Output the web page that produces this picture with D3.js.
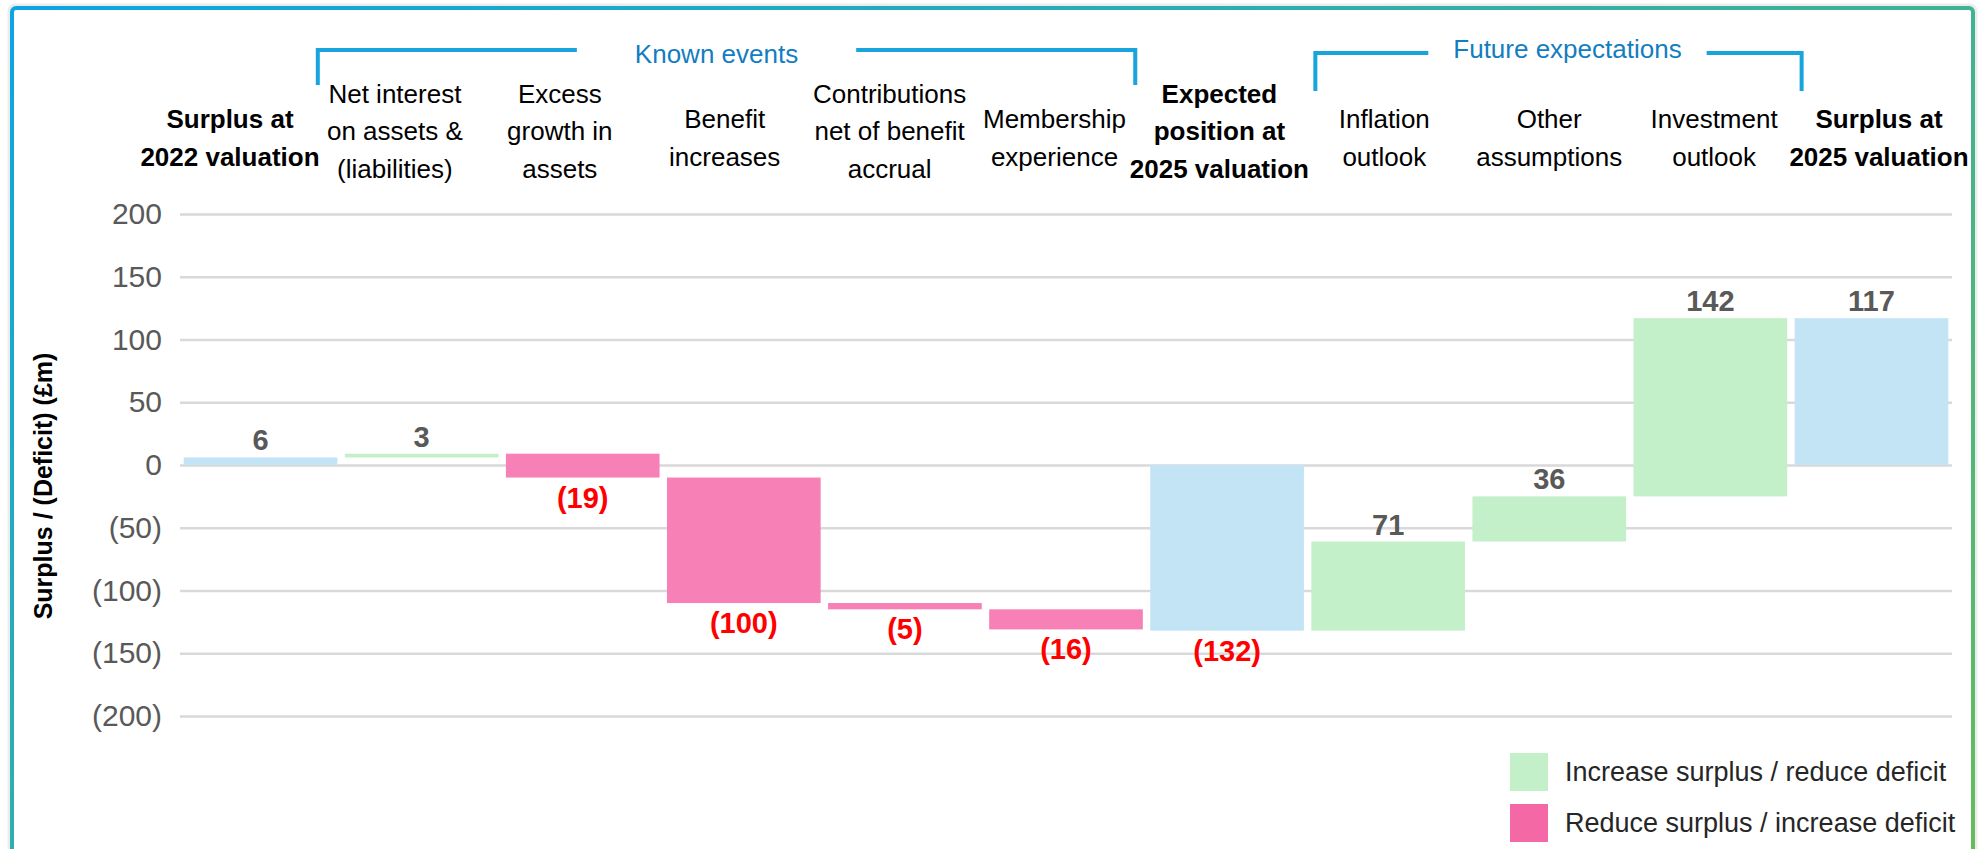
<!DOCTYPE html>
<html>
<head>
<meta charset="utf-8">
<script src="https://cdn.jsdelivr.net/npm/d3@7"></script>
<style>
html,body{margin:0;padding:0;background:#fff;overflow:hidden}
svg{display:block;font-family:"Liberation Sans",Arial,sans-serif}
</style>
</head>
<body>
<svg id="chart" width="1982" height="849"></svg>
<script>
//----------------------------------------------------------- DATA
var categories = [
	"Surplus at\n2022 valuation",
	"Net interest\non assets &\n(liabilities)",
	"Excess\ngrowth in\nassets",
	"Benefit\nincreases",
	"Contributions\nnet of benefit\naccrual",
	"Membership\nexperience",
	"Expected\nposition at\n2025 valuation",
	"Inflation\noutlook",
	"Other\nassumptions",
	"Investment\noutlook",
	"Surplus at\n2025 valuation"
];
var values = [6, 3, -19, -100, -5, -16, -132, 71, 36, 142, 117];
var barTypes = ["total","delta","delta","delta","delta","delta","total","delta","delta","delta","total"];
var yTicks = [200, 150, 100, 50, 0, -50, -100, -150, -200];
var groupNames = ["Known events", "Future expectations"];
var legendLabels = ["Increase surplus / reduce deficit", "Reduce surplus / increase deficit"];

//----------------------------------------------------------- STYLE
var colTotal = "#c2e4f5",
	colUp = "#c3f0c9",
	colDown = "#f781b6",
	colDownLegend = "#f468a6",
	colBracket = "#18a4dc",
	colGroupText = "#137dc1";

var svg = d3.select("#chart");

// frame
var defs = svg.append("defs");
var grad = defs.append("linearGradient").attr("id","frameGrad")
	.attr("x1",0).attr("y1",0).attr("x2",1).attr("y2",1);
grad.append("stop").attr("offset","0%").attr("stop-color","#0ba5e3");
grad.append("stop").attr("offset","100%").attr("stop-color","#74c043");

svg.append("rect").attr("x",9).attr("y",5).attr("width",1967).attr("height",1250)
	.attr("rx",6).attr("fill","none").attr("stroke","#ececec").attr("stroke-width",3);
svg.append("rect").attr("x",12).attr("y",8).attr("width",1961).attr("height",1200)
	.attr("rx",4).attr("fill","#fff").attr("stroke","url(#frameGrad)").attr("stroke-width",4);

//----------------------------------------------------------- SCALES
var n = categories.length;
var x = d3.scaleBand().domain(d3.range(n)).range([180,1952]).paddingInner(0.046).paddingOuter(0.023);
var y = d3.scaleLinear().domain([-200,200]).range([716,214]);
var labelX = d3.scalePoint().domain(d3.range(n)).range([230,1879]);
var bw = x.bandwidth();

function fmt(v){ return v<0 ? "(" + (-v) + ")" : "" + v; }

// y axis with gridlines
var axis = svg.append("g").attr("transform","translate(180,0)")
	.call(d3.axisLeft(y).tickValues(yTicks).tickSize(-(1952-180)).tickPadding(18).tickFormat(fmt));
axis.select(".domain").remove();
axis.selectAll(".tick line").attr("stroke","#d9d9d9").attr("stroke-width",2.5);
axis.selectAll(".tick text").attr("fill","#595959").attr("font-size","30px")
	.attr("font-family","'Liberation Sans',Arial,sans-serif");

svg.append("text")
	.attr("transform","translate(43,486) rotate(-90)")
	.attr("text-anchor","middle").attr("dominant-baseline","central")
	.attr("font-weight","bold").attr("font-size","25px").attr("fill","#000")
	.text("Surplus / (Deficit) (£m)");

//----------------------------------------------------------- WATERFALL
var bars = [], run = 0;
values.forEach(function(v,i){
	var b = {i:i, v:v, type:barTypes[i]};
	if (b.type==="total"){ b.y0 = 0; b.y1 = v; run = v; }
	else { b.y0 = run; b.y1 = run + v; run = b.y1; }
	bars.push(b);
});

function barColor(d){
	if (d.type==="total") return colTotal;
	return d.v>=0 ? colUp : colDown;
}

svg.append("g").selectAll("rect").data(bars).enter().append("rect")
	.attr("x",(d)=>x(d.i))
	.attr("width",bw)
	.attr("y",(d)=>y(Math.max(d.y0,d.y1)))
	.attr("height",(d)=>Math.abs(y(d.y0)-y(d.y1)))
	.attr("fill",barColor);

svg.append("g").selectAll("text").data(bars).enter().append("text")
	.attr("x",(d)=>x(d.i)+bw/2)
	.attr("y",function(d){
		return d.v>=0 ? y(Math.max(d.y0,d.y1)) - 7 : y(Math.min(d.y0,d.y1)) + 30;
	})
	.attr("text-anchor","middle")
	.attr("font-weight","bold").attr("font-size","29px")
	.attr("fill",(d)=>d.v>=0 ? "#595959" : "#ff0000")
	.text((d)=>fmt(d.v));

//----------------------------------------------------------- CATEGORY LABELS
categories.forEach(function(c,i){
	var lines = c.split("\n"),
		mid = lines.length===3 ? 140 : 147,
		t = svg.append("text")
			.attr("text-anchor","middle").attr("font-size","26px").attr("fill","#000")
			.attr("font-weight",barTypes[i]==="total" ? "bold" : "normal");
	lines.forEach(function(l,j){
		t.append("tspan").attr("x",labelX(i))
			.attr("y",mid + (j-(lines.length-1)/2)*37.5)
			.text(l);
	});
});

//----------------------------------------------------------- GROUP BRACKETS
var brackets = [
	{name:groupNames[0], left:x(1)-27, right:x(6)-15, lineY:50, bottom:85, base:63, shift:-10, gap:58},
	{name:groupNames[1], left:x(7)+4, right:x(10)+7, lineY:53, bottom:91, base:58, shift:9, gap:25}
];
brackets.forEach(function(b){
	var cx = (b.left+b.right)/2 + b.shift;
	var t = svg.append("text").attr("x",cx).attr("y",b.base)
		.attr("text-anchor","middle").attr("font-size","26px").attr("fill",colGroupText)
		.text(b.name);
	var w = t.node().getComputedTextLength();
	var path = "M" + b.left + "," + b.bottom + " V" + b.lineY + " H" + (cx-w/2-b.gap) +
		" M" + (cx+w/2+b.gap) + "," + b.lineY + " H" + b.right + " V" + b.bottom;
	svg.append("path").attr("d",path).attr("fill","none")
		.attr("stroke",colBracket).attr("stroke-width",4);
});

//----------------------------------------------------------- LEGEND
var legendColors = [colUp, colDownLegend];
var lg = svg.append("g").selectAll("g").data(legendLabels).enter().append("g")
	.attr("transform",(d,i)=>"translate(1510," + (753 + i*51) + ")");
lg.append("rect").attr("width",38).attr("height",38).attr("fill",(d,i)=>legendColors[i]);
lg.append("text").attr("x",55).attr("y",19).attr("dominant-baseline","central")
	.attr("font-size","27px").attr("fill","#262626").text((d)=>d);
</script>
</body>
</html>
